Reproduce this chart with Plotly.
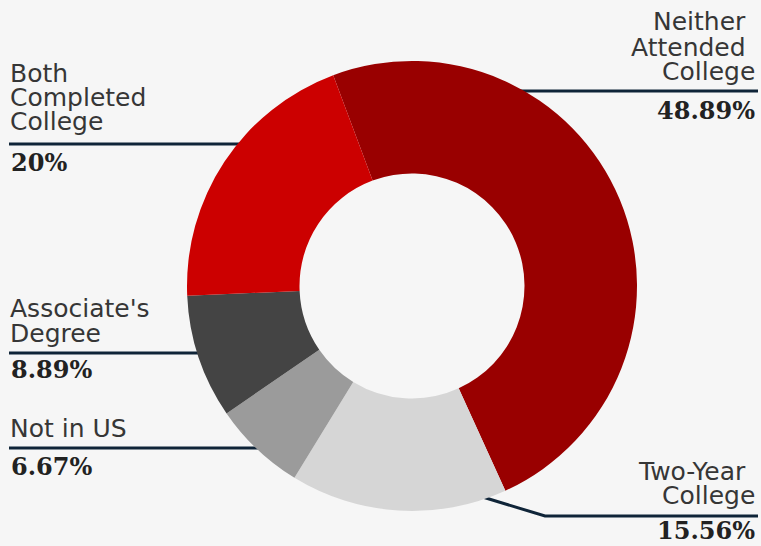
import plotly.graph_objects as go

W, H = 761, 546

categories = ["Neither Attended College", "Two-Year College", "Not in US",
              "Associate's Degree", "Both Completed College"]
values = [48.89, 15.56, 6.67, 8.89, 20.0]
pct_labels = ["48.89%", "15.56%", "6.67%", "8.89%", "20%"]
name_lines = [["Neither", "Attended", "College"],
              ["Two-Year", "College"],
              ["Not in US"],
              ["Associate's", "Degree"],
              ["Both", "Completed", "College"]]
colors = ["#990000", "#d6d6d6", "#9b9b9b", "#444444", "#cc0000"]

# label layout (pixels): side, name line centers, pct center, leader line pts
layout_info = [
    dict(side="right", x=757, xs=[-9, -9, 0], ys=[22, 47, 72], py=111,
         line=[(520, 91), (758, 91)]),
    dict(side="right", x=757, xs=[-9, 0], ys=[471, 495], py=530,
         line=[(476, 495), (545, 516), (758, 516)]),
    dict(side="left", x=8, xs=[0], ys=[428], py=466,
         line=[(9, 448), (268, 448)]),
    dict(side="left", x=8, xs=[0, 0], ys=[308, 333], py=369,
         line=[(9, 353), (208, 353)]),
    dict(side="left", x=8, xs=[0, 0, 0], ys=[74, 97, 122], py=162,
         line=[(9, 144), (245, 144)]),
]

def px(x):
    return x / W

def py_(y):
    return 1 - y / H

fig = go.Figure(go.Pie(
    labels=categories, values=values, sort=False, direction="clockwise",
    rotation=-20.5, hole=0.5, textinfo="none", hoverinfo="label+percent",
    marker=dict(colors=colors, line=dict(width=0)),
    domain=dict(x=[px(187), px(637)], y=[py_(511), py_(61)]),
))

annotations = []
shapes = []
for info, lines, pct in zip(layout_info, name_lines, pct_labels):
    anchor = info["side"]
    for t, dx, yc in zip(lines, info["xs"], info["ys"]):
        annotations.append(dict(
            text=t, x=px(info["x"] + dx), y=py_(yc), xref="paper", yref="paper",
            xanchor=anchor, yanchor="middle", showarrow=False,
            font=dict(family="DejaVu Sans", size=25, color="#363636")))
    annotations.append(dict(
        text="<b>" + pct + "</b>", x=px(info["x"] + (0 if anchor == "right" else 1)),
        y=py_(info["py"]), xref="paper", yref="paper",
        xanchor=anchor, yanchor="middle", showarrow=False,
        font=dict(family="DejaVu Serif", size=24, color="#222222")))
    pts = info["line"]
    path = "M " + " L ".join(f"{px(x)},{py_(y)}" for x, y in pts)
    shapes.append(dict(type="path", path=path, xref="paper", yref="paper",
                       line=dict(color="#0f2438", width=3), layer="below"))

fig.update_layout(
    width=W, height=H, margin=dict(l=0, r=0, t=0, b=0),
    paper_bgcolor="#f6f6f6", plot_bgcolor="#f6f6f6",
    showlegend=False, annotations=annotations, shapes=shapes,
)

fig.write_html("out.html")
